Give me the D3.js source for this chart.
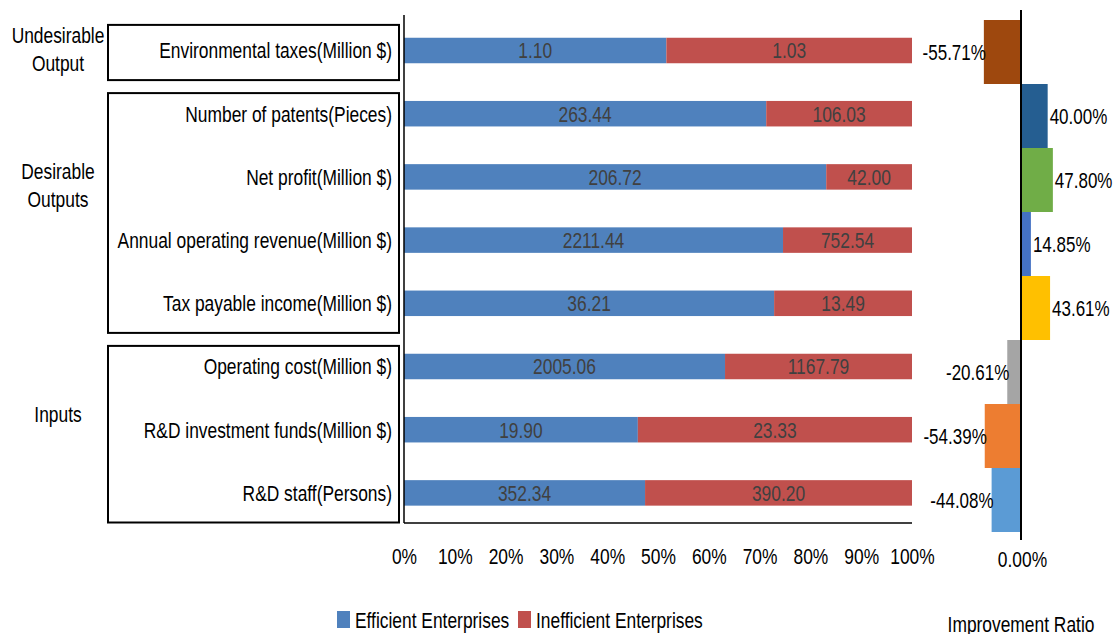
<!DOCTYPE html>
<html>
<head>
<meta charset="utf-8">
<script src="https://cdn.jsdelivr.net/npm/d3@7"></script>
<style>
html,body{margin:0;padding:0;background:#fff;}
svg text{font-family:'Liberation Sans Narrow','Arial Narrow','Liberation Sans',Arial,sans-serif;}
</style>
</head>
<body>
<svg id="chart" width="1118" height="634"></svg>
<script>
// ---- data ----
const categories = [
  "Environmental taxes(Million $)",
  "Number of patents(Pieces)",
  "Net profit(Million $)",
  "Annual operating revenue(Million $)",
  "Tax payable income(Million $)",
  "Operating cost(Million $)",
  "R&D investment funds(Million $)",
  "R&D staff(Persons)"
];
const efficient   = [1.10, 263.44, 206.72, 2211.44, 36.21, 2005.06, 19.90, 352.34];
const inefficient = [1.03, 106.03, 42.00, 752.54, 13.49, 1167.79, 23.33, 390.20];
const improvement = [-55.71, 40.00, 47.80, 14.85, 43.61, -20.61, -54.39, -44.08];
const improvementColors = ["#9E480E","#255E91","#70AD47","#4472C4","#FFC000","#A5A5A5","#ED7D31","#5B9BD5"];
const groupNames = [["Undesirable","Output"],["Desirable","Outputs"],["Inputs"]];
const groupStart = [0, 1, 5];
const groupEnd   = [0, 4, 7];
const seriesNames = ["Efficient Enterprises","Inefficient Enterprises"];
const seriesColors = ["#4F81BD","#C0504D"];
const pctTicks = [0,0.1,0.2,0.3,0.4,0.5,0.6,0.7,0.8,0.9,1.0];

const FS = 22;
const FONT = "'Liberation Sans Narrow','Arial Narrow','Liberation Sans',Arial,sans-serif";
const svg = d3.select("#chart");

// ---- left stacked 100% bar chart ----
const x = d3.scaleLinear().domain([0,1]).range([404,912]);
const y = d3.scaleBand().domain(categories).range([18.9,524.5]).padding(0);
const barH = 25.5;
const rows = categories.map((c,i)=>{
  const t = efficient[i]+inefficient[i];
  return {c, e:efficient[i], n:inefficient[i], pe:efficient[i]/t, pn:inefficient[i]/t};
});
const yc = c => y(c)+y.bandwidth()/2;

const stackData = d3.stack().keys(["pe","pn"])(rows);
stackData.forEach((layer,k)=>{
  const g = svg.append("g");
  g.selectAll("rect").data(layer).enter().append("rect")
    .attr("x",d=>x(d[0])).attr("width",d=>x(d[1])-x(d[0]))
    .attr("y",d=>yc(d.data.c)-barH/2).attr("height",barH)
    .attr("fill",seriesColors[k]);
  g.selectAll("text").data(layer).enter().append("text")
    .attr("x",d=>(x(d[0])+x(d[1]))/2).attr("y",d=>yc(d.data.c))
    .attr("dy","0.36em").attr("text-anchor","middle")
    .attr("font-size",FS).attr("fill","#404040")
    .text(d=>(k===0?d.data.e:d.data.n).toFixed(2));
});

// axes lines
const axisG = svg.append("g");
axisG.append("line").attr("x1",x(0)).attr("x2",x(0)).attr("y1",15).attr("y2",523)
  .attr("stroke","#000").attr("stroke-width",1.5);
axisG.append("line").attr("x1",x(0)).attr("x2",x(1)).attr("y1",523).attr("y2",523)
  .attr("stroke","#000").attr("stroke-width",1.5);

// x tick labels
const xAxis = d3.axisBottom(x).tickValues(pctTicks).tickFormat(d3.format(".0%")).tickSize(0).tickPadding(0);
const xg = svg.append("g").attr("transform","translate(0,548)").call(xAxis);
xg.select(".domain").remove();
xg.selectAll("text").attr("font-size",FS).attr("fill","#000").style("font-family",FONT);

// category labels
svg.append("g").selectAll("text").data(categories).enter().append("text")
  .attr("x",392).attr("y",d=>yc(d)).attr("dy","0.36em").attr("text-anchor","end")
  .attr("font-size",FS).attr("fill","#000").text(d=>d);

// group boxes and labels
groupNames.forEach((name,gi)=>{
  const top = y(categories[groupStart[gi]]) + (gi===0?6:11);
  const bot = y(categories[groupEnd[gi]]) + y.bandwidth() - 2;
  svg.append("rect").attr("x",108).attr("y",top).attr("width",291).attr("height",bot-top)
    .attr("fill","none").attr("stroke","#000").attr("stroke-width",2);
  const n = groupEnd[gi]-groupStart[gi]+1;
  const cy = (yc(categories[groupStart[gi]])+yc(categories[groupEnd[gi]]))/2 - (n-1)*7.3 - 1.5;
  const t = svg.append("text").attr("x",58).attr("text-anchor","middle").attr("font-size",FS).attr("fill","#000");
  name.forEach((line,li)=>{
    t.append("tspan").attr("x",58).attr("y",cy + (li-(name.length-1)/2)*28).attr("dy","0.36em").text(line);
  });
});

// legend
const leg = svg.append("g");
const legX = [337,518];
seriesNames.forEach((s,i)=>{
  leg.append("rect").attr("x",legX[i]).attr("y",611).attr("width",13).attr("height",17).attr("fill",seriesColors[i]);
  leg.append("text").attr("x",legX[i]+18).attr("y",620).attr("dy","0.36em")
    .attr("font-size",FS).attr("fill","#000").text(s);
});

// ---- right improvement ratio chart ----
const x2 = d3.scaleLinear().domain([-0.6,0.6]).range([981,1061]);
const y2 = d3.scaleBand().domain(categories).range([20,532]).padding(0);
const imp = categories.map((c,i)=>({c,v:improvement[i]/100,col:improvementColors[i]}));
const pctTxt = v => (v*100).toFixed(2)+"%";
const rg = svg.append("g");
rg.selectAll("rect").data(imp).enter().append("rect")
  .attr("x",d=>Math.min(x2(0),x2(d.v))).attr("width",d=>Math.abs(x2(d.v)-x2(0)))
  .attr("y",d=>y2(d.c)).attr("height",y2.bandwidth()).attr("fill",d=>d.col);
rg.append("line").attr("x1",x2(0)).attr("x2",x2(0)).attr("y1",10).attr("y2",540)
  .attr("stroke","#000").attr("stroke-width",2);
rg.selectAll("text.lab").data(imp).enter().append("text").attr("class","lab")
  .attr("x",d=>d.v<0?x2(d.v)+2:x2(d.v)+2)
  .attr("y",d=>y2(d.c)+y2.bandwidth()/2).attr("dy","0.36em")
  .attr("text-anchor",d=>d.v<0?"end":"start")
  .attr("font-size",21.5).attr("fill","#000")
  .text(d=>pctTxt(d.v));
const x2Axis = d3.axisBottom(x2).tickValues([0]).tickFormat(pctTxt).tickSize(0).tickPadding(0);
const x2g = svg.append("g").attr("transform","translate(1,551)").call(x2Axis);
x2g.select(".domain").remove();
x2g.selectAll("text").attr("font-size",FS).attr("fill","#000").style("font-family",FONT);
svg.append("text").attr("x",1021).attr("y",624).attr("dy","0.36em").attr("text-anchor","middle")
  .attr("font-size",FS).attr("fill","#000").text("Improvement Ratio");

// condense glyphs horizontally (narrow face is not installed)
const SQUEEZE = 0.79;
svg.selectAll("text").each(function(){
  const el = this;
  const spans = el.querySelectorAll("tspan");
  const targets = spans.length ? Array.from(spans) : [el];
  targets.forEach(t=>{
    const L = t.getComputedTextLength();
    if (L>0) { t.setAttribute("textLength", (L*SQUEEZE).toFixed(2)); t.setAttribute("lengthAdjust","spacingAndGlyphs"); }
  });
});
</script>
</body>
</html>
